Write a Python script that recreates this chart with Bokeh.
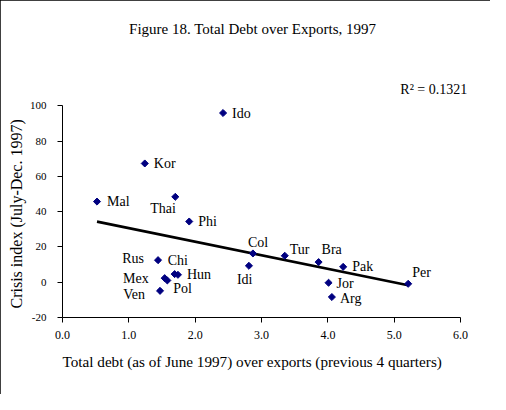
import numpy as np
from bokeh.plotting import figure
from bokeh.models import Range1d, FixedTicker, NumeralTickFormatter, Label, Title, ColumnDataSource
from bokeh.embed import file_html
from bokeh.resources import INLINE

# ---- data ----
countries = ["Ido", "Kor", "Mal", "Thai", "Phi", "Rus", "Chi", "Mex", "Hun", "Pol",
             "Ven", "Idi", "Col", "Tur", "Bra", "Pak", "Per", "Jor", "Arg"]
debt_over_exports = [2.42, 1.24, 0.52, 1.70, 1.91, 1.44, 1.69, 1.54, 1.74, 1.58,
                     1.47, 2.81, 2.87, 3.35, 3.86, 4.23, 5.21, 4.01, 4.06]
crisis_index = [95.9, 67.3, 45.7, 48.4, 34.4, 12.5, 4.6, 2.3, 4.2, 1.0,
                -4.9, 9.3, 16.3, 15.0, 11.4, 8.7, -0.9, -0.3, -8.4]

x_ticks = [0, 1, 2, 3, 4, 5, 6]
y_ticks = [-20, 0, 20, 40, 60, 80, 100]

title_text = "Figure 18. Total Debt over Exports, 1997"
x_label = "Total debt (as of June 1997) over exports (previous 4 quarters)"
y_label = "Crisis index (July-Dec. 1997)"
r2_text = "R\u00b2 = 0.1321"

# ---- label placement (styles, pixels) ----
label_dx = [9, 9, 10, -25, 9, -14, -7, -16, 9, 6, -15, -12, -5, 5, 3, 9, 4, 8, 8]
label_dy = [0, 0, 0, 12, 0, -2, -14, 0, 0, 8, 4, 14, -11, -6, -13, 0, -11, 1, 1]
label_align = ["left", "left", "left", "left", "left", "right", "left", "right", "left", "left",
               "right", "left", "left", "left", "left", "left", "left", "left", "left"]

FONT = "Liberation Serif"
NAVY = "#000080"

src = ColumnDataSource(dict(x=debt_over_exports, y=crisis_index, name=countries,
                            dx=label_dx, dy=label_dy, align=label_align))

# ranges extend past the axes so the title and R^2 note sit inside the frame
p = figure(width=490, height=394, output_backend="svg", toolbar_location=None,
           x_range=Range1d(0, 6.3), y_range=Range1d(-20, 154),
           min_border_left=62, min_border_right=10, min_border_top=10, min_border_bottom=77)
p.styles = {"outline": "1px solid black", "outline-offset": "-1px"}
p.outline_line_color = None
p.xgrid.grid_line_color = None
p.ygrid.grid_line_color = None
p.background_fill_color = "white"
p.border_fill_color = "white"

for ax in (p.xaxis[0], p.yaxis[0]):
    ax.axis_line_color = "black"
    ax.major_tick_line_color = "black"
    ax.minor_tick_line_color = None
    ax.major_tick_out = 5
    ax.major_tick_in = 0
    ax.major_label_text_font = FONT
    ax.major_label_text_color = "black"

p.xaxis.bounds = (0, 6)
p.xaxis.ticker = FixedTicker(ticks=x_ticks)
p.xaxis.formatter = NumeralTickFormatter(format="0.0")
p.xaxis.major_label_standoff = 8
p.xaxis.major_label_text_font_size = "12px"

p.yaxis.bounds = (-20, 100)
p.yaxis.ticker = FixedTicker(ticks=y_ticks)
p.yaxis.major_label_overrides = {t: str(t) for t in y_ticks}
p.yaxis.major_label_standoff = 11
p.yaxis.major_label_text_font_size = "11px"

# axis titles as side panels (positioned along the bounded axes)
xt = Title(text=x_label, align="left", offset=0, text_font=FONT, text_font_size="15.2px",
           text_font_style="normal", text_color="black", standoff=18)
p.add_layout(xt, "below")
yt = Title(text=y_label, align="left", offset=9, text_font=FONT, text_font_size="16px",
           text_font_style="normal", text_color="black", standoff=4)
p.add_layout(yt, "left")

# trend line (least squares from the data)
xs = np.array(debt_over_exports)
ys = np.array(crisis_index)
slope, intercept = np.polyfit(xs, ys, 1)
line_x = [xs.min(), xs.max()]
line_y = [intercept + slope * v for v in line_x]
p.line(line_x, line_y, line_color="black", line_width=2.6)

# points
p.scatter("x", "y", source=src, marker="square", size=5, angle=np.pi / 4,
          fill_color=NAVY, line_color=NAVY)

# point labels
p.text("x", "y", text="name", source=src, x_offset="dx", y_offset="dy",
       text_align="align", text_baseline="middle",
       text_font={"value": FONT}, text_font_size="14px", text_color="black")

# chart title and R^2 note
p.add_layout(Label(x=2.866, y=143.5, text=title_text, text_align="center",
                   text_baseline="middle", text_font=FONT, text_font_size="15px",
                   text_color="black"))
p.add_layout(Label(x=6.10, y=109.5, text=r2_text, text_align="right",
                   text_baseline="middle", text_font=FONT, text_font_size="14px",
                   text_color="black"))

open("out.html", "w").write(file_html(p, INLINE))
